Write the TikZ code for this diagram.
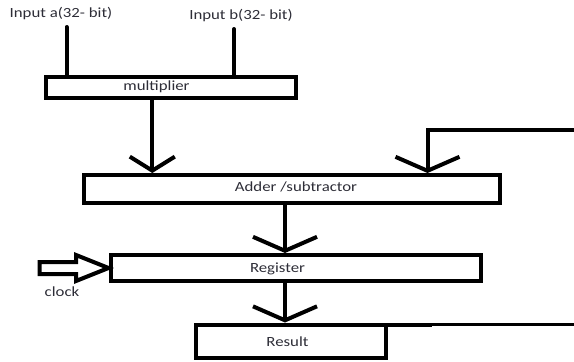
\documentclass[tikz,border=0pt]{standalone}
\usepackage{fontspec}
\setmainfont{Carlito}[FakeStretch=1.2]
\usetikzlibrary{arrows.meta}
\definecolor{inkgray}{RGB}{45,45,55}

\begin{document}
\begin{tikzpicture}[x=1pt,y=1pt]
    \tikzset{
        box/.style={draw, line width=4pt, inner sep=0pt},
        txt/.style={text=inkgray, font=\fontsize{14}{16}\selectfont},
        wire/.style={line width=4pt, line cap=round},
        arc/.style={wire, -{Straight Barb[length=14pt, width=#1]}},
        arc/.default=64pt
    }
    \useasboundingbox (0,0) rectangle (574,-362);

    % blocks
    \node[box, minimum width=250pt, minimum height=21pt, label={[txt,xshift=-14pt]center:multiplier}] (mult) at (170.5,-87) {};
    \node[box, minimum width=416pt, minimum height=28pt, label={[txt,xshift=4pt,yshift=2pt]center:Adder /subtractor}] (adder) at (292,-189) {};
    \node[box, minimum width=370pt, minimum height=26pt, label={[txt,xshift=-18pt,yshift=-1pt]center:Register}] (reg) at (295.5,-268) {};
    \node[box, minimum width=190pt, minimum height=33pt, label={[txt,xshift=-3pt,yshift=-1pt]center:Result}] (res) at (290.5,-341) {};

    % texts
    \node[txt] (la) at (61,-14) {Input a(32- bit)};
    \node[txt] (lb) at (241,-16) {Input b(32- bit)};
    \node[txt] (clk) at (62,-292) {clock};

    \coordinate (ina) at (66.5,-27);
    \coordinate (inb) at (234,-29);
    \coordinate (mo) at (152.3,0);
    \coordinate (ao) at (285,0);
    \coordinate (fb) at (574,-129.5);
    \coordinate (fa) at (427.5,0);
    \coordinate (rj) at (432,-324.5);

    \foreach \x in {ina,inb}{
        \draw[wire] (\x) -- (\x |- mult.north);
    }
    \draw[arc=45pt] (mult.south -| mo) -- (adder.north -| mo);
    \draw[arc, line cap=butt] (fb) -- (fb -| fa) -- (adder.north -| fa);
    \draw[arc] (adder.south -| ao) -- (reg.north -| ao);
    \draw[arc] (reg.south -| ao) -- (res.north -| ao);

    % clock input
    \draw[wire, line cap=butt, line join=miter] (reg.west) -- ++(-32.5,13) -- ++(0,-7) -- ++(-36.5,0)
        -- ++(0,-12) -- ++(36.5,0) -- ++(0,-7) -- cycle;

    % output line
    \draw[wire, line cap=butt] (rj -| res.east) -- (rj);
    \draw[line width=3pt] (rj) -- (rj -| fb);
\end{tikzpicture}
\end{document}
